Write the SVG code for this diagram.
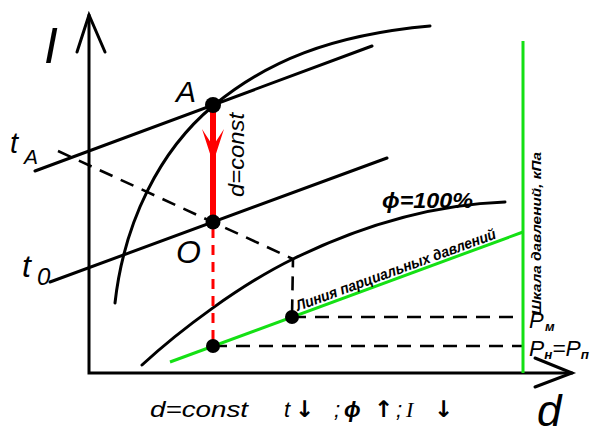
<svg xmlns="http://www.w3.org/2000/svg" width="590" height="434" viewBox="0 0 590 434">
<style>
.ln{fill:none;stroke:#000;stroke-width:3;stroke-linecap:round}
.ds{fill:none;stroke:#000;stroke-width:2.6;stroke-dasharray:14 9}
.rds{fill:none;stroke:#f00;stroke-width:3;stroke-dasharray:10 7}
.gr{fill:none;stroke:#14e014;stroke-width:3}
.dot{fill:#000}
.t{font-family:"Liberation Sans",Arial,sans-serif;font-style:italic;fill:#000}
.b{font-weight:bold}
.ar{font-family:"DejaVu Sans",sans-serif;font-weight:bold}
</style>
<rect width="590" height="434" fill="#fff"/>
<g id="axes">
<path class="ln" d="M89,15 L89,373 L572,373"/>
<path class="ln" d="M77,52 L89,15 L105,52"/>
<path class="ln" d="M535,358 L572,373 L535,387"/>
</g>
<g id="curves">
<path class="ln" d="M115,303 C124,222 160,150 213,106 S330,35 430,26"/>
<path class="ln" d="M142,365 C180,330 240,285 293,259 S420,205 505,202"/>
</g>
<g id="connectors">
<path class="ln" d="M35,171 L372,46"/>
<path class="ln" d="M50,282 L387,158"/>
<path class="ds" d="M58,151 L293,259 L292,317"/>
<path class="ds" d="M292,317 L523,317"/>
<path class="ds" d="M213,346 L523,346"/>
<path class="rds" d="M213,228 L213,346"/>
<path fill="none" stroke="#f00" stroke-width="6" d="M213,110 L213,220"/>
<path fill="#f00" d="M202,129 L213,163 L224,129 L213,146 Z"/>
<path class="gr" d="M170,362 L523,232"/>
<path class="gr" d="M523,41 L523,373"/>
</g>
<g id="point-A"><circle class="dot" cx="213" cy="105" r="8"/><text class="t" x="176" y="102" font-size="30">A</text></g>
<g id="point-O"><circle class="dot" cx="213" cy="222" r="7.5"/><text class="t" x="176" y="263" font-size="32">O</text></g>
<g id="point-M"><circle class="dot" cx="292" cy="317" r="7"/></g>
<g id="point-R"><circle class="dot" cx="213" cy="346" r="7"/></g>
<g id="labels">
<text class="t" x="44" y="63" font-size="50">I</text>
<text class="t" x="10" y="153" font-size="29">t<tspan x="24" y="164" font-size="21">A</tspan></text>
<text class="t" x="22" y="277" font-size="32">t<tspan x="37" y="285" font-size="24">0</tspan></text>
<text class="t" transform="translate(244,197) rotate(-90)" font-size="22" textLength="84" lengthAdjust="spacingAndGlyphs">d=const</text>
<text class="t b" x="382" y="208" font-size="22" textLength="91" lengthAdjust="spacingAndGlyphs">ϕ=100%</text>
<text class="t b" transform="translate(298,311) rotate(-20.1)" font-size="15" textLength="212" lengthAdjust="spacingAndGlyphs">Линия парциальных давлений</text>
<text class="t b" transform="translate(541,315) rotate(-90)" font-size="13" textLength="163" lengthAdjust="spacingAndGlyphs">Шкала давлений, кПа</text>
<text class="t" x="529" y="328" font-size="22">P<tspan class="b" x="545" y="331" font-size="13">м</tspan></text>
<text class="t" x="529" y="356" font-size="22" textLength="60" lengthAdjust="spacingAndGlyphs">P<tspan class="b" y="359" font-size="13">н</tspan><tspan y="356">=P</tspan><tspan class="b" y="359" font-size="13">п</tspan></text>
<text class="t" x="537" y="426" font-size="44">d</text>
<text class="t" x="150" y="417" font-size="22" textLength="98" lengthAdjust="spacingAndGlyphs">d=const</text>
<text class="t" y="417" font-size="22"><tspan x="284">t</tspan><tspan class="ar" x="295" font-size="23">↓</tspan><tspan x="334">;</tspan><tspan class="b" x="344">ϕ</tspan><tspan class="ar" x="374" font-size="23">↑</tspan><tspan x="396">;</tspan><tspan font-family="Liberation Serif" x="406">I</tspan><tspan class="ar" x="434" font-size="23">↓</tspan></text>
</g>
</svg>
